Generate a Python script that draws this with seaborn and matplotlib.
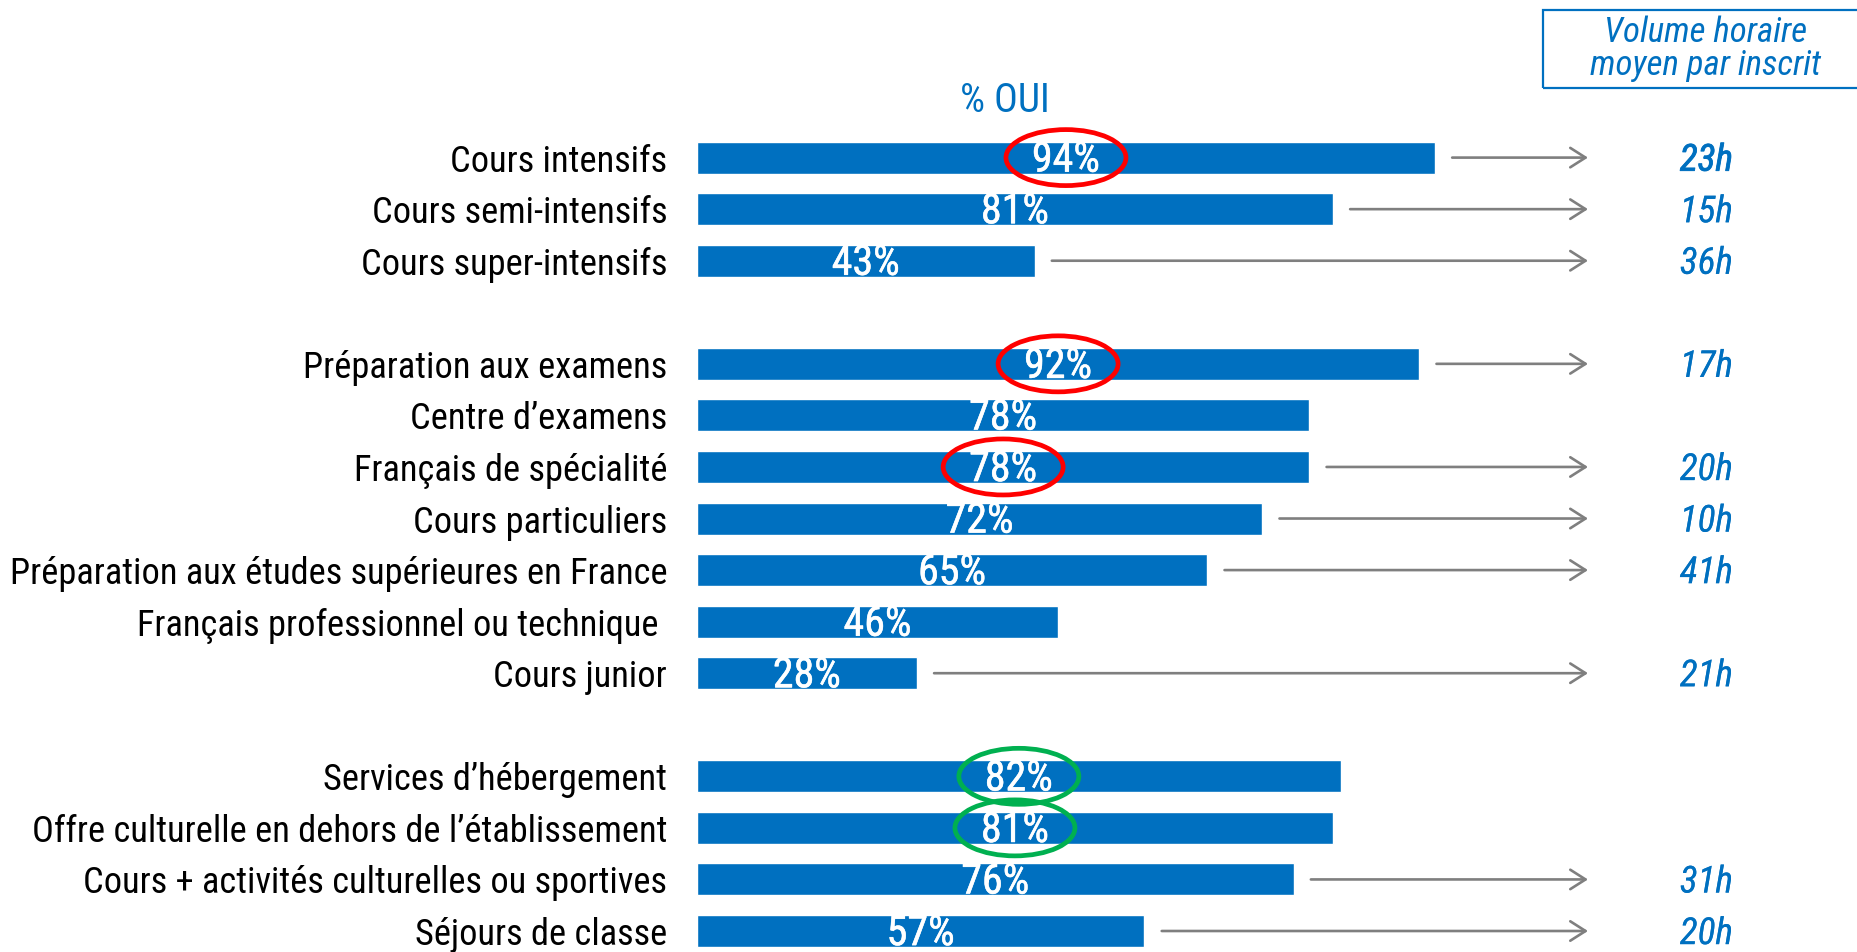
import matplotlib
matplotlib.use("Agg")
import matplotlib.pyplot as plt
import matplotlib.patheffects as pe
import seaborn as sns
import pandas as pd
from matplotlib.patches import Ellipse, Rectangle
from matplotlib import font_manager as fm

# ---------------- data ----------------
categories = [
    "Cours intensifs", "Cours semi-intensifs", "Cours super-intensifs",
    "Préparation aux examens", "Centre d\u2019examens", "Français de spécialité",
    "Cours particuliers", "Préparation aux études supérieures en France",
    "Français professionnel ou technique ", "Cours junior",
    "Services d\u2019hébergement", "Offre culturelle en dehors de l\u2019établissement",
    "Cours + activités culturelles ou sportives", "Séjours de classe",
]
pct_oui = [94, 81, 43, 92, 78, 78, 72, 65, 46, 28, 82, 81, 76, 57]
hours = ["23h", "15h", "36h", "17h", None, "20h", "10h", "41h", None, "21h",
         None, None, "31h", "20h"]
groups = [3, 7, 4]  # rows per group (blank row between groups)
red_circled = ["Cours intensifs", "Préparation aux examens", "Français de spécialité"]
green_circled = ["Services d\u2019hébergement",
                 "Offre culturelle en dehors de l\u2019établissement"]
bold_hours = ["Cours intensifs"]
title_text = "% OUI"
box_text = "Volume horaire\nmoyen par inscrit"

# ---------------- style ----------------
BLUE = "#0070C0"
GREY = "#7F7F7F"
RED = "#FF0000"
GREEN = "#00B050"

sns.set_theme(style="white")
names = {f.name for f in fm.fontManager.ttflist}
FONT = next((n for n in ["Roboto Condensed", "Liberation Sans Narrow",
                         "Open Sans Condensed", "Noto Sans", "Lato"] if n in names),
            "DejaVu Sans")
plt.rcParams["font.family"] = [FONT, "DejaVu Sans"]

W, H = 1858, 952
fig = plt.figure(figsize=(W / 100, H / 100), dpi=100)
renderer = fig.canvas.get_renderer()


def fit_size(text, target_px, **kw):
    t = fig.text(0, 0, text, fontsize=20, **kw)
    w = t.get_window_extent(renderer=renderer).width
    t.remove()
    return 20 * target_px / w


# geometry (pixels)
x0_px = 697          # bar origin
px_per_pct = 7.85
row0_px = 157.6
row_step = 51.56

ax = fig.add_axes([x0_px / W, 0, 1 - x0_px / W, 1])

# build order with spacer rows
order = []
i = 0
for g_idx, n in enumerate(groups):
    order += categories[i:i + n]
    i += n
    if g_idx < len(groups) - 1:
        order.append(" " * (g_idx + 1) + "\u200b")

df = pd.DataFrame({"cat": categories, "pct": pct_oui})
sns.barplot(data=df, x="pct", y="cat", order=order, color=BLUE, saturation=1,
            width=0.62, orient="h", ax=ax)

ax.set_xlim(0, (W - x0_px) / px_per_pct)
ax.set_ylim((H - row0_px) / row_step, -row0_px / row_step)
for s in ax.spines.values():
    s.set_visible(False)
ax.set_xticks([])
ax.set_xlabel("")
ax.set_ylabel("")

lab_fs = fit_size("Préparation aux études supérieures en France", 656)
ax.set_yticks(range(len(order)))
ax.set_yticklabels([o if o in categories else "" for o in order])
ax.tick_params(axis="y", length=0, pad=21.5, labelsize=lab_fs, labelcolor="black")

pct_fs = fit_size("94%", 68)
hr_fs = fit_size("23h", 53, style="italic")
arrow_end = (1588 - x0_px) / px_per_pct
hours_x = (1733 - x0_px) / px_per_pct

for cat, v, h in zip(categories, pct_oui, hours):
    y = order.index(cat)
    ax.text(v / 2, y + 0.05, f"{v}%", ha="center", va="center", color="white",
            fontsize=pct_fs,
            path_effects=[pe.withStroke(linewidth=0.4, foreground="white")])
    if h is not None:
        ax.annotate("", xy=(arrow_end, y), xytext=(v + 2.2, y),
                    arrowprops=dict(arrowstyle="->,head_length=0.55,head_width=0.35",
                                    color=GREY, lw=1.9, mutation_scale=20,
                                    shrinkA=0, shrinkB=0))
        heavy = cat in bold_hours
        ax.text(hours_x, y + 0.06, h, ha="right", va="center", color=BLUE,
                fontsize=hr_fs, style="italic",
                path_effects=[pe.withStroke(linewidth=0.6 if heavy else 0.05,
                                            foreground=BLUE)])
    if cat in red_circled or cat in green_circled:
        col = RED if cat in red_circled else GREEN
        ax.add_patch(Ellipse((v / 2, y), width=120 / px_per_pct,
                             height=56 / row_step, fill=False, edgecolor=col,
                             lw=3.4, zorder=5))

# "% OUI" header
oui_fs = fit_size(title_text, 90)
ax.text((1005 - x0_px) / px_per_pct, (101 - row0_px) / row_step, title_text,
        ha="center", va="center", color=BLUE, fontsize=oui_fs)

# box at top right
box_fs = fit_size("moyen par inscrit", 231, style="italic")
fig.patches.append(Rectangle((1543 / W, 1 - 88 / H), (W - 1543 + 10) / W, 78 / H,
                             transform=fig.transFigure, fill=False,
                             edgecolor=BLUE, lw=1.6))
fig.text(1706 / W, 1 - 49 / H, box_text, ha="center", va="center", color=BLUE,
         fontsize=box_fs, style="italic", linespacing=1.0)

fig.savefig("out.png", dpi=100)
